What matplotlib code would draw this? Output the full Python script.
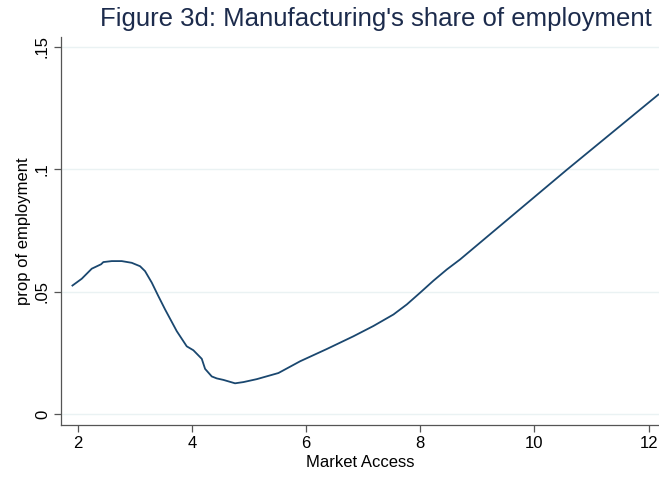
import matplotlib
matplotlib.use("Agg")
import matplotlib.pyplot as plt

# Fitted share of manufacturing in employment against market access
market_access = [1.898, 2.074, 2.249, 2.412, 2.452, 2.599, 2.774, 2.949, 3.095,
                 3.182, 3.300, 3.415, 3.532, 3.737, 3.912, 4.028, 4.175, 4.233,
                 4.350, 4.438, 4.553, 4.758, 4.904, 5.138, 5.517, 5.897, 6.364,
                 6.830, 7.180, 7.531, 7.765, 7.998, 8.231, 8.466, 8.699, 10.567,
                 12.18]
emp_share = [0.0523, 0.0553, 0.0594, 0.0612, 0.0621, 0.0625, 0.0625, 0.0618,
             0.0604, 0.0584, 0.0537, 0.0482, 0.0428, 0.0339, 0.0277, 0.0261,
             0.0226, 0.0185, 0.0154, 0.0146, 0.0140, 0.0126, 0.0131, 0.0143,
             0.0168, 0.0216, 0.0266, 0.0318, 0.0360, 0.0407, 0.0448, 0.0496,
             0.0545, 0.0591, 0.0632, 0.0998, 0.1307]

x_ticks = [2, 4, 6, 8, 10, 12]
y_ticks = [0, 0.05, 0.10, 0.15]
y_tick_labels = ["0", ".05", ".1", ".15"]

plt.rcParams["font.family"] = ["Liberation Sans", "DejaVu Sans"]

fig = plt.figure(figsize=(6.59, 4.78), dpi=100)
ax = fig.add_axes([0.0926, 0.1115, 0.9074, 0.8111])

ax.plot(market_access, emp_share, color="#1a476f", linewidth=1.3,
        solid_joinstyle="round", solid_capstyle="butt", zorder=3)

ax.set_xlim(1.711, 12.18)
ax.set_ylim(-0.0043, 0.1540)

ax.set_xticks(x_ticks)
ax.set_xticklabels([str(t) for t in x_ticks])
ax.set_yticks(y_ticks)
ax.set_yticklabels(y_tick_labels, rotation=90, va="center")

ax.grid(axis="y", color="#eaf2f3", linewidth=1.0, zorder=0)
ax.set_axisbelow(True)

for side in ("top", "right"):
    ax.spines[side].set_visible(False)
for side in ("left", "bottom"):
    ax.spines[side].set_color("#555555")
    ax.spines[side].set_linewidth(0.9)

ax.tick_params(axis="both", direction="out", length=5, width=0.9,
               color="#555555", labelsize=12, labelcolor="#000000", pad=3)

ax.set_xlabel("Market Access", fontsize=12, labelpad=3)
ax.set_ylabel("prop of employment", fontsize=12, labelpad=3)

fig.text(0.571, 0.960, "Figure 3d: Manufacturing's share of employment",
         ha="center", va="center", fontsize=18.5, color="#1c2b4c")

fig.savefig("out.png", dpi=100)
